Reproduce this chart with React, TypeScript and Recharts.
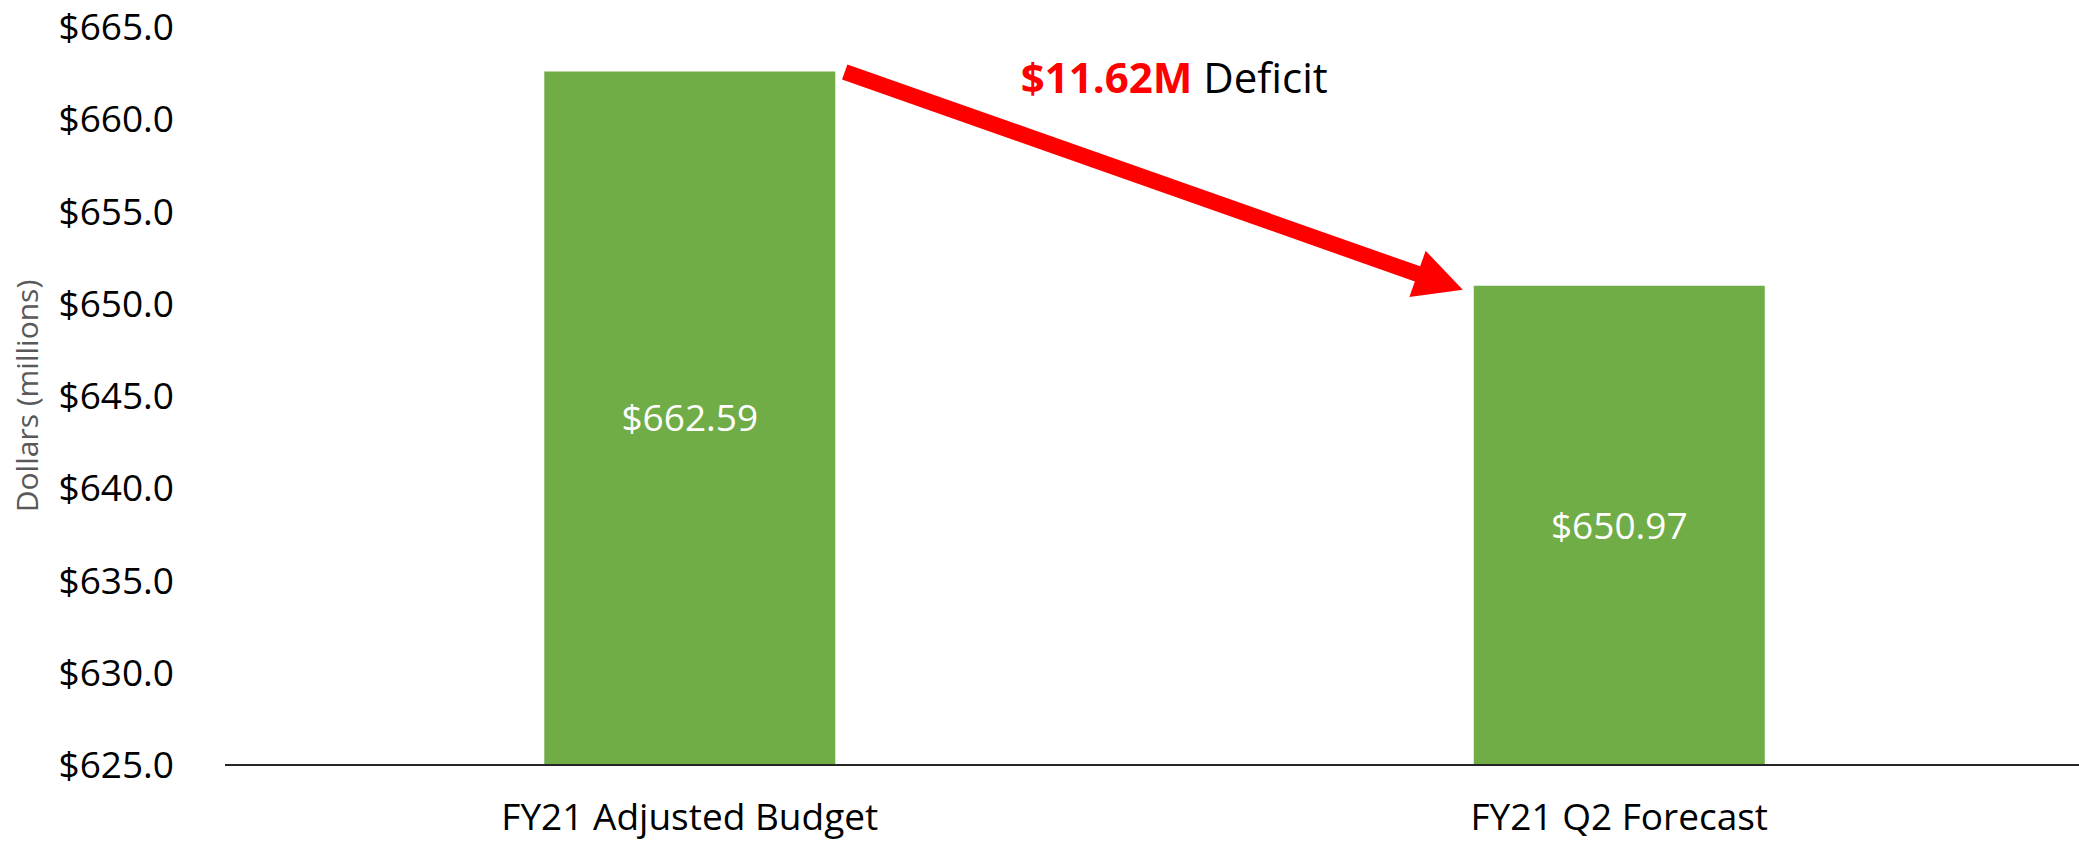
import React from "react";
import {
  BarChart,
  Bar,
  XAxis,
  YAxis,
  LabelList,
  Label,
  ReferenceLine,
} from "recharts";

// Chart values
const categories = ["FY21 Adjusted Budget", "FY21 Q2 Forecast"];
const amounts = [662.59, 650.97];
const yTicks = [625, 630, 635, 640, 645, 650, 655, 660, 665];

const data = categories.map((name, i) => ({ name, amount: amounts[i] }));
const deficit = amounts[0] - amounts[1];

const FONT = '"Open Sans", sans-serif';
const GREEN = "#70AD47";
const RED = "#FF0000";
const BAR_GAP = 0.3435; // per side, share of the band

// Red arrow from the top-right corner of the first bar to the top-left of the second
function DeficitArrow(props: any) {
  const { x1, y1, x2, y2 } = props;
  if ([x1, y1, x2, y2].some((v) => typeof v !== "number")) return null;
  const half = (x2 - x1) * (0.5 - BAR_GAP);
  const sx = x1 + half + 9.5;
  const sy = y1 + 0.5;
  const tx = x2 - half - 11;
  const ty = y2 + 4;
  const len = Math.hypot(tx - sx, ty - sy);
  const ux = (tx - sx) / len;
  const uy = (ty - sy) / len;
  const nx = -uy;
  const ny = ux;
  const bx = tx - 48 * ux;
  const by = ty - 48 * uy;
  const w = 8;
  const hw = 24.5;
  const pts = [
    [sx + w * nx, sy + w * ny],
    [bx + w * nx, by + w * ny],
    [bx + hw * nx, by + hw * ny],
    [tx, ty],
    [bx - hw * nx, by - hw * ny],
    [bx - w * nx, by - w * ny],
    [sx - w * nx, sy - w * ny],
  ];
  return (
    <g>
      <polygon points={pts.map((p) => p.join(",")).join(" ")} fill={RED} />
      <text x={sx + 176} y={sy + 21.5} fontFamily={FONT} fontSize={42}>
        <tspan fill={RED} fontWeight={700}>{`$${deficit.toFixed(2)}M`}</tspan>
        <tspan fill="#000">{" Deficit"}</tspan>
      </text>
    </g>
  );
}

function YTitle(props: any) {
  const vb = props.viewBox || { x: 0, y: 27, width: 225, height: 738 };
  const cx = vb.x + 38;
  const cy = vb.y + vb.height / 2;
  return (
    <text
      x={cx}
      y={cy}
      transform={`rotate(-90, ${cx}, ${cy})`}
      textAnchor="middle"
      fontFamily={FONT}
      fontSize={30}
      fill="#595959"
    >
      Dollars (millions)
    </text>
  );
}

export default function App() {
  return (
    <div>
      <style>{"body{margin:0}"}</style>
      <BarChart
        width={2079}
        height={842}
        data={data}
        margin={{ top: 27, right: -5, bottom: 0, left: 0 }}
        barCategoryGap={`${BAR_GAP * 100}%`}
      >
        <XAxis
          dataKey="name"
          height={77}
          interval={0}
          tickLine={false}
          tickSize={0}
          tickMargin={39}
          axisLine={{ stroke: "#262626", strokeWidth: 2 }}
          tick={{ fill: "#000", fontSize: 37, fontFamily: FONT }}
        />
        <YAxis
          width={225}
          domain={[625, 665]}
          ticks={yTicks}
          interval={0}
          axisLine={false}
          tickLine={false}
          tickSize={0}
          tickMargin={51}
          tickFormatter={(v: number) => `$${v.toFixed(1)}`}
          tick={{ fill: "#000", fontSize: 37, fontFamily: FONT }}
        >
          <Label content={(p: any) => <YTitle {...p} />} />
        </YAxis>
        <Bar dataKey="amount" fill={GREEN} isAnimationActive={false}>
          <LabelList
            dataKey="amount"
            position="center"
            fill="#fff"
            fontSize={37}
            fontFamily={FONT}
            formatter={(v: any) => `$${Number(v).toFixed(2)}`}
          />
        </Bar>
        <ReferenceLine
          segment={[
            { x: categories[0], y: amounts[0] },
            { x: categories[1], y: amounts[1] },
          ]}
          shape={(p: any) => <DeficitArrow {...p} />}
        />
      </BarChart>
    </div>
  );
}
